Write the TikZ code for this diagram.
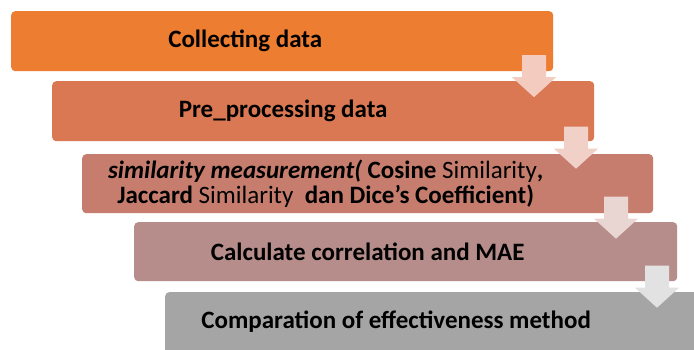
\documentclass[tikz,border=0pt]{standalone}
\usepackage{fontspec}
\setmainfont{Carlito}
\usetikzlibrary{calc}

\definecolor{boxA}{HTML}{ED7D31}
\definecolor{boxB}{HTML}{D97852}
\definecolor{boxC}{HTML}{C67D6D}
\definecolor{boxD}{HTML}{B68D8A}
\definecolor{boxE}{HTML}{A5A5A5}
\definecolor{arrA}{HTML}{F4CCBF}
\definecolor{arrB}{HTML}{F1D1C7}
\definecolor{arrC}{HTML}{E9D5D2}
\definecolor{arrD}{HTML}{E3E2E2}

\tikzset{
    stepbox/.style={rectangle,rounded corners=4pt,anchor=north west,inner sep=0pt},
    steptext/.style={font=\fontsize{25}{25}\selectfont\bfseries,align=center,inner sep=0pt},
    flowarrow/.pic={\fill (-12,-21) -- (12,-21) -- (12,1) -- (22,1) -- (0,21) -- (-22,1) -- (-12,1) -- cycle;}
}

\begin{document}
\begin{tikzpicture}[x=1pt,y=-1pt]
    \clip (0,0) rectangle (694,349);
    \fill[white] (0,0) rectangle (694,349);

    % the five steps
    \node[stepbox,fill=boxA,minimum width=542pt,minimum height=60pt] (b1) at (11,11) {};
    \node[stepbox,fill=boxB,minimum width=542pt,minimum height=60pt] (b2) at (52,81) {};
    \node[stepbox,fill=boxC,minimum width=571pt,minimum height=59pt] (b3) at (82,154) {};
    \node[stepbox,fill=boxD,minimum width=543pt,minimum height=59pt] (b4) at (134,222) {};
    \node[stepbox,fill=boxE,minimum width=560pt,minimum height=72pt] (b5) at (165,292) {};

    \node[steptext] (t1) at ($(b1.center)+(-37,0)$) {Collecting data};
    \node[steptext] (t2) at ($(b2.center)+(-40,0)$) {Pre\_processing data};
    \node[steptext] (t3) at ($(b3.center)+(-42,0)$) {\textit{similarity measurement(} Cosine \mdseries Similarity\bfseries,\\
        Jaccard \mdseries Similarity\bfseries\ \ dan Dice's Coefficient)};
    \node[steptext] (t4) at ($(b4.center)+(-38,0)$) {Calculate correlation and MAE};
    \node[steptext] (t5) at ($(b5.center)+(-49,-7)$) {Comparation of effectiveness method};

    % arrows between the steps
    \coordinate (a1) at ($(b1.south)!0.5!(b2.north)$);
    \coordinate (a2) at ($(b2.south)!0.5!(b3.north)$);
    \coordinate (a3) at ($(b3.south)!0.5!(b4.north)$);
    \coordinate (a4) at ($(b4.south)!0.5!(b5.north)$);
    \pic[fill=arrA] at (534,0 |- a1) {flowarrow};
    \pic[fill=arrB] at (576,0 |- a2) {flowarrow};
    \pic[fill=arrC] at (616,0 |- a3) {flowarrow};
    \pic[fill=arrD] at (657,0 |- a4) {flowarrow};
\end{tikzpicture}
\end{document}
